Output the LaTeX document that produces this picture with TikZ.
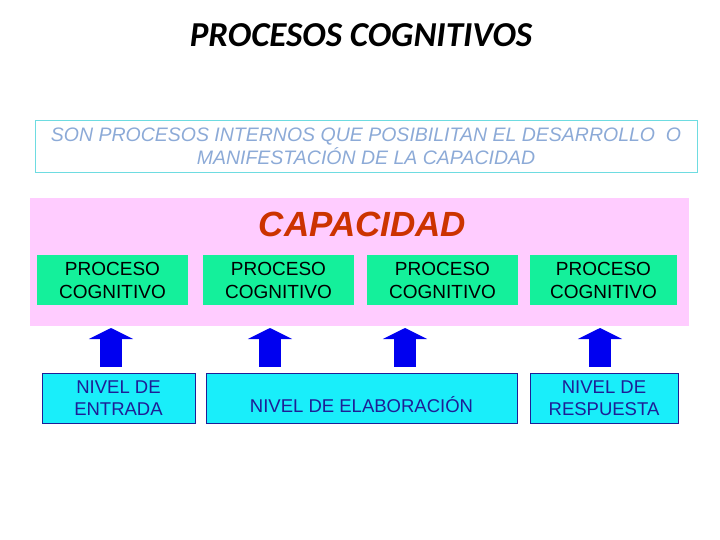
\documentclass[tikz,border=0pt]{standalone}
\usepackage{fontspec}
\setmainfont{Liberation Sans}
\newfontfamily\titlefont{Carlito}
\usepackage{tikz}
\usetikzlibrary{arrows.meta}
\definecolor{rosa}{RGB}{255,204,255}
\definecolor{verde}{RGB}{20,240,155}
\definecolor{celeste}{RGB}{25,238,250}
\definecolor{azulflecha}{RGB}{0,0,240}
\definecolor{azultxt}{RGB}{30,30,150}
\definecolor{grisazul}{RGB}{140,170,215}
\definecolor{bordecian}{RGB}{110,220,225}
\definecolor{rojizo}{RGB}{204,51,0}
\tikzset{
  procbox/.style={rectangle,fill=verde,minimum width=151pt,minimum height=50pt,inner sep=0pt,align=center,font=\fontsize{19}{23}\selectfont},
  nivbox/.style={rectangle,draw=azultxt,thin,fill=celeste,minimum height=50pt,inner sep=0pt,align=center,text=azultxt,font=\fontsize{18.5}{22.5}\selectfont},
  upblock/.style={draw=azulflecha,line width=22pt,-{Triangle[width=44pt,length=11pt]},shorten <=6pt}
}
\begin{document}
\begin{tikzpicture}[x=1pt,y=-1pt]
\useasboundingbox (0,0) rectangle (720,540);

\draw (361,35) node (titulo) {\titlefont\fontsize{35}{40}\selectfont\bfseries\itshape PROCESOS COGNITIVOS};

\draw (366,146) node[rectangle,draw=bordecian,thin,minimum width=662pt,minimum height=52pt,align=center,text=grisazul,font=\fontsize{19.5}{23}\selectfont\itshape] (defin) {SON PROCESOS INTERNOS QUE POSIBILITAN EL DESARROLLO\ \ O\\MANIFESTACIÓN DE LA CAPACIDAD};

% capacidad y procesos
\draw (359.5,262) node[rectangle,fill=rosa,minimum width=659pt,minimum height=128pt] (capa) {};
\draw (362.5,224) node[text=rojizo,font=\fontsize{35}{40}\selectfont\bfseries\itshape] (capatxt) {CAPACIDAD};

\draw (112.5,280) node[procbox] (procA) {PROCESO\\COGNITIVO};
\draw (278.5,280) node[procbox] (procB) {PROCESO\\COGNITIVO};
\draw (442.5,280) node[procbox] (procC) {PROCESO\\COGNITIVO};
\draw (603.5,280) node[procbox,minimum width=147pt] (procD) {PROCESO\\COGNITIVO};

% niveles
\draw (118.5,398) node[nivbox,minimum width=153pt] (nivA) {NIVEL DE\\ENTRADA};
\draw (361.5,398) node[nivbox,minimum width=311pt,text height=29pt] (nivB) {NIVEL DE ELABORACIÓN};
\draw (604,398) node[nivbox,minimum width=148pt] (nivC) {NIVEL DE\\RESPUESTA};

\coordinate (tipA) at (111,328);
\coordinate (tipB) at (270,328);
\coordinate (tipC) at (405,328);
\coordinate (tipD) at (600,328);

\draw[upblock] (nivA.north -| tipA) -- (tipA);
\draw[upblock] (nivB.north -| tipB) -- (tipB);
\draw[upblock] (nivB.north -| tipC) -- (tipC);
\draw[upblock] (nivC.north -| tipD) -- (tipD);
\end{tikzpicture}
\end{document}
